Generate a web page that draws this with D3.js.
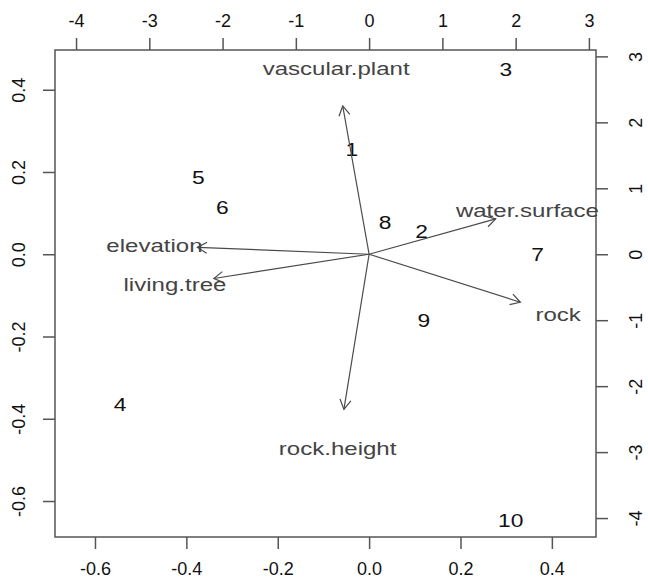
<!DOCTYPE html>
<html>
<head>
<meta charset="utf-8">
<script src="https://cdn.jsdelivr.net/npm/d3@7"></script>
<style>
  body { margin: 0; background: #fff; }
  svg text { font-family: "Liberation Sans", Arial, sans-serif; }
</style>
</head>
<body>
<div class="app"></div>
<script>
// sample scores (primary axes)
var siteLabels = ["1", "2", "3", "4", "5", "6", "7", "8", "9", "10"];
var siteX = [-0.038, 0.115, 0.299, -0.545, -0.374, -0.321, 0.369, 0.035, 0.12, 0.310];
var siteY = [0.256, 0.055, 0.449, -0.366, 0.187, 0.115, -0.001, 0.077, -0.160, -0.646];

// variable loadings (secondary axes), labels sit at the loading, arrows at 0.8
var varLabels = ["vascular.plant", "elevation", "living.tree", "water.surface", "rock", "rock.height"];
var varX = [-0.45, -2.93, -2.65, 2.16, 2.58, -0.43];
var varY = [2.81, 0.13, -0.46, 0.67, -0.91, -2.94];

var primTicks = [-0.6, -0.4, -0.2, 0.0, 0.2, 0.4];
var secTicks = [-4, -3, -2, -1, 0, 1, 2, 3];
var primLim = [-0.6875, 0.4966];
var secRatio = 6.236;

var W = 648, H = 581;
var box = {left: 55, right: 596, top: 50, bottom: 537};

var svg = d3.select(".app").append("svg")
    .attr("width", W)
    .attr("height", H);

var x = d3.scaleLinear().domain(primLim).range([box.left, box.right]);
var y = d3.scaleLinear().domain(primLim).range([box.bottom, box.top]);
var x2 = d3.scaleLinear().domain(primLim.map(function(d) { return d * secRatio; })).range([box.left, box.right]);
var y2 = d3.scaleLinear().domain(primLim.map(function(d) { return d * secRatio; })).range([box.bottom, box.top]);

var axisCol = "#555";
var tickFont = 18;

function styleAxis(g) {
  g.select(".domain").remove();
  g.selectAll("line").attr("stroke", axisCol).attr("stroke-width", 1.5);
  g.selectAll("text").attr("fill", "#111").style("font-size", tickFont + "px");
}

// bottom
svg.append("g")
    .attr("transform", "translate(0," + box.bottom + ")")
    .call(d3.axisBottom(x).tickValues(primTicks).tickSize(12).tickFormat(function(d) { return d.toFixed(1); }))
    .call(styleAxis)
    .selectAll("text").attr("y", 32).attr("dy", "0.35em");

// top
svg.append("g")
    .attr("transform", "translate(0," + box.top + ")")
    .call(d3.axisTop(x2).tickValues(secTicks).tickSize(12).tickFormat(function(d) { return String(d); }))
    .call(styleAxis)
    .selectAll("text").attr("y", -29).attr("dy", "0.35em");

// left
svg.append("g")
    .attr("transform", "translate(" + box.left + ",0)")
    .call(d3.axisLeft(y).tickValues(primTicks).tickSize(12).tickFormat(function(d) { return d.toFixed(1); }))
    .call(styleAxis)
    .selectAll("text")
      .attr("x", null).attr("dy", "0.35em")
      .attr("text-anchor", "middle")
      .attr("transform", "translate(-36,0) rotate(-90)");

// right
svg.append("g")
    .attr("transform", "translate(" + box.right + ",0)")
    .call(d3.axisRight(y2).tickValues(secTicks).tickSize(12).tickFormat(function(d) { return String(d); }))
    .call(styleAxis)
    .selectAll("text")
      .attr("x", null).attr("dy", "0.35em")
      .attr("text-anchor", "middle")
      .attr("transform", "translate(40,0) rotate(-90)");

// box
svg.append("rect")
    .attr("x", box.left).attr("y", box.top)
    .attr("width", box.right - box.left).attr("height", box.bottom - box.top)
    .attr("fill", "none").attr("stroke", axisCol).attr("stroke-width", 1.5);

// site labels
var sites = siteLabels.map(function(l, i) { return {label: l, x: siteX[i], y: siteY[i]}; });
svg.append("g").selectAll("text")
    .data(sites)
  .enter().append("text")
    .attr("transform", function(d) { return "translate(" + x(d.x) + "," + y(d.y) + ") scale(1.2,1)"; })
    .attr("text-anchor", "middle")
    .attr("dy", "0.35em")
    .attr("fill", "#111")
    .style("font-size", "19px")
    .text(function(d) { return d.label; });

// arrows
var vars = varLabels.map(function(l, i) { return {label: l, x: varX[i], y: varY[i]}; });
var arrowCol = "#4a4a4a";
var headLen = 11, headAng = Math.PI / 6;

var ag = svg.append("g").attr("stroke", arrowCol).attr("stroke-width", 1.2).attr("fill", "none");
vars.forEach(function(d) {
  var x0 = x2(0), y0 = y2(0);
  var x1 = x2(d.x * 0.8), y1 = y2(d.y * 0.8);
  ag.append("line").attr("x1", x0).attr("y1", y0).attr("x2", x1).attr("y2", y1);
  var a = Math.atan2(y1 - y0, x1 - x0);
  var p = [
    [x1 - headLen * Math.cos(a - headAng), y1 - headLen * Math.sin(a - headAng)],
    [x1, y1],
    [x1 - headLen * Math.cos(a + headAng), y1 - headLen * Math.sin(a + headAng)]
  ];
  ag.append("path").attr("d", d3.line()(p));
});

svg.append("g").selectAll("text")
    .data(vars)
  .enter().append("text")
    .attr("transform", function(d) { return "translate(" + x2(d.x) + "," + y2(d.y) + ") scale(1.3,1)"; })
    .attr("text-anchor", "middle")
    .attr("dy", "0.35em")
    .attr("fill", "#444")
    .style("font-size", "18.5px")
    .text(function(d) { return d.label; });
</script>
</body>
</html>
